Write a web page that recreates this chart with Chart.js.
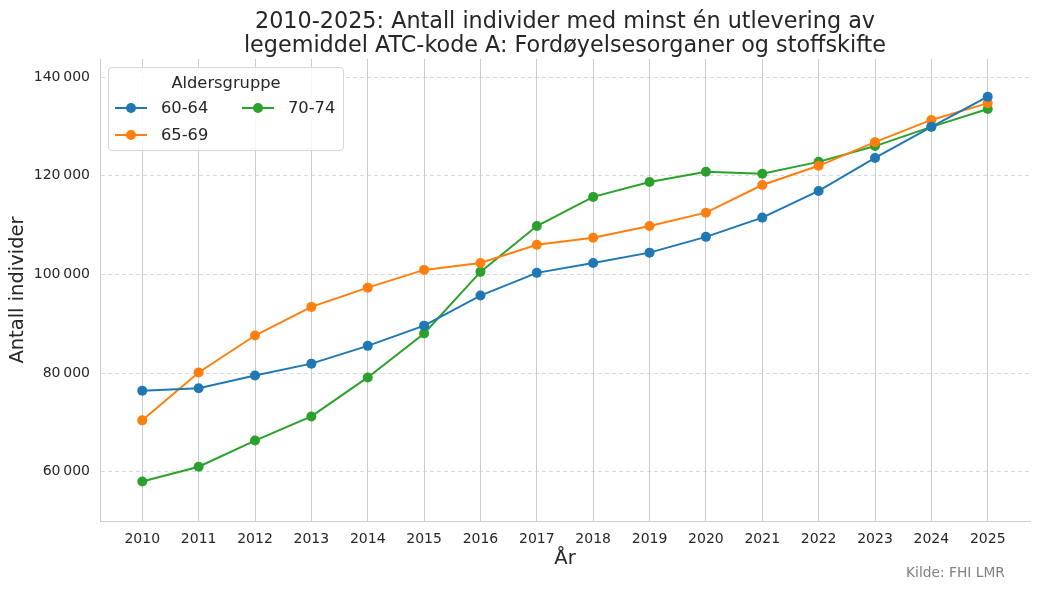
<!DOCTYPE html>
<html>
<head>
<meta charset="utf-8">
<script src="https://cdn.jsdelivr.net/npm/chart.js@4"></script>
<style>
  body { margin: 0; background: #fff; font-family: "DejaVu Sans", sans-serif; color: #262626; }
  #wrap { position: relative; width: 1039px; height: 591px; }
  #title { position: absolute; left: 100px; width: 930px; top: 9px; text-align: center; font-size: 22.3px; line-height: 23.5px; }
  #legend { position: absolute; left: 108px; top: 67px; width: 234px; height: 82px; border: 1px solid #d6d6d6; border-radius: 4px; background: rgba(255,255,255,0.85); font-size: 16.3px; }
  #legend .lt { position: absolute; top: 5px; width: 100%; text-align: center; }
  #legend .item { position: absolute; height: 20px; line-height: 20px; }
  #legend .sw { position: absolute; left: 0; top: 9px; width: 32px; height: 2px; }
  #legend .sw i { position: absolute; left: 11px; top: -4px; width: 10px; height: 10px; border-radius: 50%; }
  #legend .lb { position: absolute; left: 46px; white-space: nowrap; }
  #source { position: absolute; left: 906px; top: 564px; font-size: 13.8px; color: #808080; }
</style>
</head>
<body>
<div id="wrap">
  <canvas id="chart" width="1039" height="591"></canvas>
  <div id="title">2010-2025: Antall individer med minst én utlevering av<br>legemiddel ATC-kode A: Fordøyelsesorganer og stoffskifte</div>
  <div id="legend"><div class="lt">Aldersgruppe</div></div>
  <div id="source">Kilde: FHI LMR</div>
</div>
<script>
const years = [2010, 2011, 2012, 2013, 2014, 2015, 2016, 2017, 2018, 2019, 2020, 2021, 2022, 2023, 2024, 2025];
const age6064 = [76400, 76900, 79500, 81900, 85500, 89600, 95700, 100300, 102300, 104400, 107600, 111500, 116900, 123600, 129900, 136000];
const age6569 = [70400, 80100, 87600, 93400, 97300, 100900, 102300, 106000, 107400, 109800, 112500, 118100, 122000, 126800, 131300, 134700];
const age7074 = [58000, 61000, 66300, 71200, 79100, 88000, 100500, 109800, 115700, 118700, 120800, 120400, 122800, 126000, 129900, 133500];
const yTicks = [60000, 80000, 100000, 120000, 140000];
const groupNames = ['60-64', '65-69', '70-74'];
const groupColors = ['#1f77b4', '#ff7f0e', '#2ca02c'];

const seriesValues = [age6064, age6569, age7074];

const datasets = groupNames.map((name, i) => ({
    label: name,
    data: years.map((yr, j) => ({ x: yr, y: seriesValues[i][j] })),
    borderColor: groupColors[i],
    backgroundColor: groupColors[i],
    borderWidth: 2,
    pointRadius: 5,
    pointHoverRadius: 5,
    pointBorderWidth: 0,
    tension: 0
}));

// legend entries: two columns like the original
const legendSlots = [
    { left: 6, top: 30 },
    { left: 6, top: 57 },
    { left: 133, top: 30 }
];
const legendBox = document.getElementById('legend');
groupNames.forEach((name, i) => {
    const item = document.createElement('div');
    item.className = 'item';
    item.style.left = legendSlots[i].left + 'px';
    item.style.top = legendSlots[i].top + 'px';
    item.innerHTML = `<span class="sw" style="background:${groupColors[i]}"><i style="background:${groupColors[i]}"></i></span><span class="lb">${name}</span>`;
    legendBox.appendChild(item);
});

const fmt = v => String(v).replace(/\B(?=(\d{3})+(?!\d))/g, '\u2009');

new Chart(document.getElementById('chart'), {
    type: 'line',
    data: { datasets: datasets },
    options: {
        responsive: false,
        animation: false,
        layout: { padding: { top: 59, right: 9, left: 0, bottom: 0 } },
        plugins: {
            legend: { display: false },
            tooltip: { enabled: false }
        },
        scales: {
            x: {
                type: 'linear',
                min: 2009.25,
                max: 2025.75,
                afterBuildTicks: scale => { scale.ticks = years.map(v => ({ value: v })); },
                afterFit: scale => { scale.height = 70; },
                grid: { color: '#cccccc', lineWidth: 1, drawTicks: false },
                border: { color: '#cccccc', width: 1 },
                ticks: {
                    padding: 10,
                    color: '#262626',
                    font: { family: 'DejaVu Sans', size: 14 },
                    callback: v => String(v)
                },
                title: {
                    display: true,
                    text: 'År',
                    color: '#262626',
                    font: { family: 'DejaVu Sans', size: 19.5 },
                    padding: { top: 0, bottom: 20 }
                }
            },
            y: {
                min: 50000,
                max: 143650,
                afterBuildTicks: scale => { scale.ticks = yTicks.map(v => ({ value: v })); },
                afterFit: scale => { scale.width = 100; },
                grid: { color: 'rgba(204,204,204,0.75)', lineWidth: 1, drawTicks: false },
                border: { color: '#cccccc', width: 1, dash: [4, 3] },
                ticks: {
                    padding: 10,
                    color: '#262626',
                    font: { family: 'DejaVu Sans', size: 14 },
                    callback: v => fmt(v)
                },
                title: {
                    display: true,
                    text: 'Antall individer',
                    color: '#262626',
                    font: { family: 'DejaVu Sans', size: 19.5 },
                    padding: { top: 6, bottom: 0 }
                }
            }
        }
    }
});
</script>
</body>
</html>
